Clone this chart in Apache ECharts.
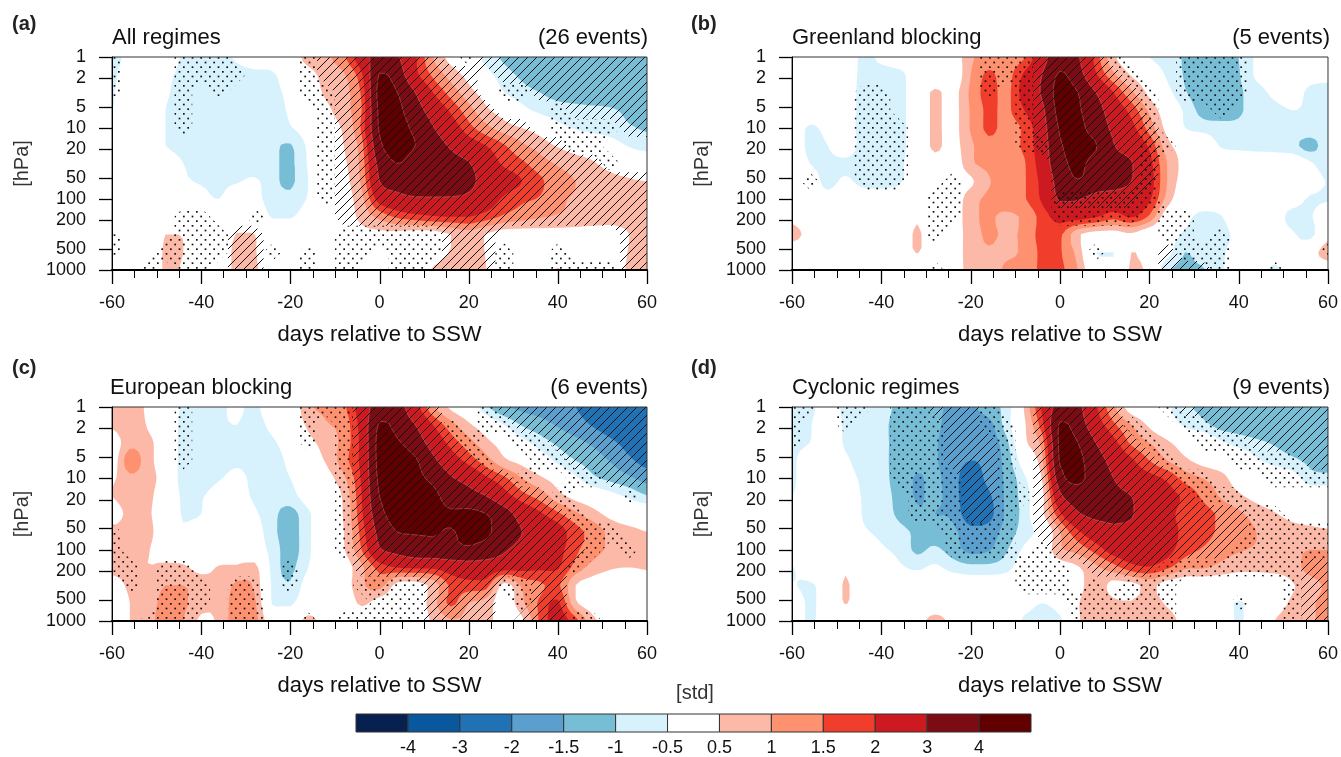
<!DOCTYPE html>
<html><head><meta charset="utf-8">
<script src="https://cdn.jsdelivr.net/npm/echarts@6/dist/echarts.min.js"></script>
<style>html,body{margin:0;padding:0;background:#fff}#c{width:1341px;height:757px}</style>
</head><body><div id="c"></div>
<script>
const days=[-60,-56,-52,-48,-44,-40,-36,-32,-28,-24,-20,-16,-12,-8,-4,0,4,8,12,16,20,24,28,32,36,40,44,48,52,56,60];
const levels=[1,1.78,3.16,5.62,10,17.8,31.6,56.2,100,178,316,562,1000];
const pressureTicks=[1,2,5,10,20,50,100,200,500,1000];
const dayTicks=[-60,-55,-50,-45,-40,-35,-30,-25,-20,-15,-10,-5,0,5,10,15,20,25,30,35,40,45,50,55,60];
const bandEdges=[-4,-3,-2,-1.5,-1,-0.5,0.5,1,1.5,2,3,4];
const bandColors=['#08204f','#09589e','#2171b5','#5a9fce','#78bdd6','#d8f2fd','#ffffff','#fdb9a8','#fe9170','#f03d2c','#cc1a20','#7b0c14','#600000'];

const panelA=[
[-.7,-.3,0,0,-.6,-.8,-.7,-.4,0,0,.2,.7,.9,1.4,2.5,3.4,3.1,2.1,1,.3,-.1,-.7,-1.1,-1.3,-1.3,-1.35,-1.35,-1.3,-1.3,-1.3,-1.3],
[-.6,-.2,0,-.3,-.7,-.8,-.85,-.75,-.7,-.6,0,.3,.7,.95,1.9,4.05,3.5,2.2,1.4,.8,.3,-.3,-.8,-1.1,-1.3,-1.3,-1.4,-1.35,-1.3,-1.3,-1.3],
[-.55,-.1,0,-.4,-.75,-.8,-.8,-.8,-.8,-.7,-.3,.1,.6,.85,1.6,4.3,4,3,2,1.3,.7,.2,-.5,-.8,-1,-1.15,-1.25,-1.3,-1.3,-1.4,-1.4],
[-.5,0,0,-.5,-.75,-.85,-.85,-.85,-.85,-.8,-.4,-.1,.35,.85,1.5,4.2,4.2,3.4,2.6,1.9,1.2,.6,.2,-.3,-.65,-.8,-.85,-.9,-.95,-1.1,-1.2],
[0,0,0,-.5,-.8,-.85,-.85,-.85,-.85,-.85,-.55,-.2,.15,.6,1.6,4.1,4.3,3.8,3.05,2.4,1.7,1.15,.75,.5,.2,-.3,-.55,-.7,-.8,-.95,-1.05],
[0,0,0,-.5,-.75,-.85,-.9,-.9,-.9,-.9,-1.05,-.4,-.05,.5,1.3,3.8,4.3,4,3.4,2.9,2.4,2,1.55,1.1,.8,.45,.2,.1,-.2,-.55,-.75],
[0,0,0,0,-.5,-.65,-.7,-.75,-.9,-.9,-1.1,-.45,-.1,.4,1.2,3.3,4,3.6,3.4,3.3,3.05,2.4,1.9,1.6,1.2,.95,.75,.55,.3,.2,.1],
[0,0,0,0,-.4,-.55,-.6,-.55,-.4,-.85,-1.1,-.5,-.1,.3,1.1,3,3.4,3.5,3.6,3.5,3.2,2.7,2.3,2,1.6,1.2,1,.8,.65,.55,.5],
[0,0,0,0,-.1,-.3,-.5,-.1,-.3,-.75,-.85,-.45,-.1,.25,.85,2.3,2.7,2.9,2.9,2.9,2.8,2.4,1.9,1.6,1.45,1.1,.95,.9,.85,.8,.8],
[0,0,0,0,0,0,0,0,0,-.55,-.55,-.2,0,.2,.65,1.15,1.6,1.8,1.95,2,2,1.75,1.4,1.2,1.05,.95,.85,.8,.75,.75,.8],
[0,0,-.4,.5,.45,0,-.2,.55,.5,0,0,0,0,.1,.3,.35,.3,.2,.2,.5,.8,.45,.2,.2,.25,.25,.25,.2,.2,.5,.9],
[0,0,-.4,.65,.5,0,-.2,.75,.55,0,0,0,0,0,.05,.1,.1,.1,.2,.55,.95,.45,.1,.1,.1,.1,.1,.1,.1,.55,.95],
[0,0,-.4,.65,.4,0,-.2,.75,.6,0,0,0,0,0,.1,.2,.2,.2,.55,.8,.95,.5,.2,.2,.2,.55,.2,.2,.2,.6,1]];
const panelB=[
[0,0,0,.1,-.7,-.3,0,0,0,.1,.9,1.2,1.25,1.45,2.6,3.6,3.1,1.8,.6,.1,-.5,-.8,-1.05,-1.3,-1.3,-1,-.4,-.1,0,0,0],
[0,0,0,-.1,-.7,-.8,-.7,-.1,0,0,1,1.6,1.3,2.1,3,4.1,3.4,2.1,1.1,.45,.1,-.6,-1.05,-1.35,-1.4,-1.05,-.4,-.2,-.1,-.3,-.3],
[0,0,0,-.1,-.75,-.85,-.75,0,.6,.3,1.1,1.7,1.35,2.3,3.1,4.4,4,3,2,1.1,.35,-.3,-.95,-1.3,-1.4,-1.1,-.7,-.4,-.3,-.6,-.7],
[0,0,0,-.1,-.75,-.85,-.75,0,.6,.3,1.05,1.6,1.4,2,2.8,4.3,4.1,3.4,2.5,1.8,.9,.1,-.6,-1.2,-1.3,-1.1,-.7,-.6,-.5,-.55,-.6],
[0,-.6,-.3,-.2,-.75,-.85,-.75,0,.6,.3,1.05,1.6,1.35,1.6,2.6,4.1,4.2,3.6,2.8,2.2,1.3,.3,-.5,-.7,-.8,-.85,-.7,-.6,-.6,-.65,-.7],
[0,-.65,-.5,-.2,-.7,-.8,-.75,0,.6,.3,.9,1.35,1.35,1.6,2.5,3.9,4.2,4.05,3.05,2.6,1.9,.7,.2,.05,-.55,-.65,-.7,-.75,-.85,-1.2,-.7],
[0,-.5,-.6,-.6,-.75,-.8,-.65,0,.3,.1,.9,1.15,1.3,1.45,2.4,3.7,4.15,3.7,3.3,3.05,2.2,1,.3,.1,0,0,0,0,0,-.4,-.9],
[0,-.2,-.65,-.4,-.7,-.75,-.6,0,.1,.1,.4,.95,1.25,1.45,2.2,3.4,3.95,3.5,3.3,3,2.3,1,.2,0,0,0,0,0,0,-.1,-.55],
[0,-.1,-.3,0,-.1,-.1,0,0,.1,.1,.8,1.1,1.3,1.45,2.1,3.1,3.05,2.7,2.6,2.6,2.1,.8,0,0,0,0,0,0,-.1,-.6,-.6],
[.3,0,0,0,0,0,0,.4,0,.1,.85,1.05,.9,1.1,1.7,2.3,2.3,2.05,1.7,2.05,1.4,.1,-.3,-.7,-.55,0,0,0,-.8,-.6,.2],
[.7,.3,0,0,0,0,0,.58,0,.1,.8,1.05,.95,1.1,1.7,1.6,.6,.2,.2,.4,0,-.2,-.6,-.75,-.7,-.3,0,0,-.4,-.7,.3],
[.1,0,0,0,0,0,0,.53,0,.1,.8,.95,.9,1.1,1.6,1.55,.8,-.5,-.5,.5,.1,-.3,-1,-.7,-.6,-.2,-.1,-.2,-.3,.2,.8],
[0,-.55,0,0,-.55,0,0,0,0,.1,.75,.7,1.1,1.2,1.6,1.6,1,-.2,-.3,.6,.3,-.9,-1.1,-1.05,-.6,-.1,-.2,-.6,-.1,0,.1]];
const panelC=[
[.7,.8,.4,0,-.6,-.7,-.6,-.4,-.6,-.1,0,.9,1.1,1.4,2.4,3.5,3.4,2.3,1.1,.4,0,-.9,-1.45,-1.6,-1.7,-1.8,-2,-2.2,-2.3,-2.3,-2.3],
[.6,.9,.45,0,-.65,-.75,-.6,-.5,-.75,-.3,0,.6,.95,1.2,2.3,4.1,3.7,3,2,1.2,.6,.1,-.5,-1.05,-1.3,-1.55,-1.8,-2.05,-2.3,-2.4,-2.4],
[.1,.85,.65,.1,-.7,-.75,-.75,-.75,-.8,-.6,-.1,.35,.7,1.2,2.2,4.3,4.1,3.5,2.6,1.8,1.2,.65,.2,-.3,-.75,-1.1,-1.35,-1.6,-1.9,-2.2,-2.5],
[.15,1.3,.7,.1,-.7,-.75,-.75,-.6,-.7,-.8,-.3,.2,.55,1.3,2.2,4.3,4.4,4.1,3.2,2.4,1.8,1.2,.6,.3,-.1,-.65,-1,-1.25,-1.55,-1.9,-2.2],
[.4,.9,.7,.2,-.75,-.8,-.55,-.35,-.65,-.8,-.5,-.1,.25,.9,2.1,4.2,4.4,4.2,3.8,3.1,2.7,2.1,1.6,1,.6,.2,-.4,-.9,-1.15,-1.4,-1.7],
[.5,.9,.65,.1,-.6,-.55,-.2,-.2,-.6,-.8,-.7,-.2,.05,.6,2,4,4.3,4.3,4.2,3.6,3.35,3,2.3,1.7,1.3,.7,.3,0,-.3,-.6,-.95],
[.1,.7,.6,0,-.55,-.5,0,0,-.4,-.85,-1.2,-.6,0,.55,1.9,3.7,4.3,4.3,4.2,4.1,4.2,4,3.4,2.6,2.1,1.6,1.1,.7,.3,.1,.1],
[.7,.85,.7,0,-.4,-.2,0,0,-.2,-.85,-1.25,-.6,0,.5,1.7,3.3,4,4.05,4.05,3.95,4.2,4.15,3.5,3,2.7,2.3,1.7,1.3,.85,.65,.5],
[.75,.75,.55,.1,0,0,0,0,-.1,-.7,-1.25,-.6,0,.45,1.5,2.9,3.3,3.6,3.7,3.75,3.85,3.6,3.1,2.7,2.4,2.2,1.6,1.2,.9,.85,.8],
[.7,.7,.5,.65,.6,.3,.55,.6,.7,-.7,-1.1,-.5,0,.2,.9,1.7,2,2.1,2.1,2.4,2.5,2.5,2.3,2.2,2.1,2.05,1.3,.8,.55,.5,.55],
[.2,.6,.6,1,1,.8,.6,1.1,.9,-.6,-.95,-.2,0,.2,.9,1.2,.3,.2,.7,1.6,1.8,1.7,.3,1.1,1.4,1.6,.5,.2,.1,.1,.2],
[0,.5,.6,1.3,1.1,.7,.6,1.3,1.1,-.55,-.6,0,0,0,.6,.2,.1,.1,.8,1.6,1,.8,.1,.9,1.6,2.1,.6,.2,.1,.1,.1],
[0,.5,.7,1.4,1,.4,.6,1.3,1.2,0,0,.7,.2,0,0,0,0,0,.6,.95,.9,.8,0,.4,1.6,2.3,1.7,.6,.4,.5,.5]];
const panelD=[
[-.7,-.6,-.3,-.6,-.7,-.85,-1.1,-1.3,-1.4,-1.6,-1.6,-1.2,-.8,.55,2.1,3.4,3.2,2.1,1.1,.2,0,-.4,-.9,-1.1,-1.25,-1.3,-1.3,-1.3,-1.3,-1.3,-1.3],
[-.7,-.55,-.1,-.6,-.75,-.9,-1.15,-1.3,-1.4,-1.7,-1.8,-1.7,-.75,.4,1.8,4.1,3.5,2.4,1.6,1,.4,-.1,-.6,-.85,-1.2,-1.25,-1.3,-1.3,-1.3,-1.3,-1.3],
[-.65,-.5,0,-.6,-.8,-.9,-1.15,-1.35,-1.45,-1.8,-1.9,-1.8,-1.15,.35,1.2,4.2,4,3,2.2,1.4,1,.6,.2,.1,-.4,-.7,-.9,-1.05,-1.2,-1.3,-1.3],
[-.6,-.1,0,-.4,-.75,-.9,-1.15,-1.35,-1.45,-1.8,-2,-1.85,-1.3,-.1,.9,4.1,4.2,3.4,2.7,2.1,1.5,1,.6,.3,.1,0,-.4,-.7,-.9,-1.1,-1.2],
[-.6,-.1,0,-.3,-.6,-.85,-1.2,-1.55,-1.4,-1.8,-2.3,-1.85,-1.4,-.6,.55,3.6,4.2,3.5,3,2.5,2.2,1.9,1.3,1,.7,.2,0,0,-.2,-.8,-.85],
[-.5,0,0,-.2,-.55,-.8,-1.15,-1.55,-1.4,-1.75,-2.4,-2.1,-1.4,-.75,.3,2.8,3.5,3.4,3.2,3,2.5,2.2,1.9,1.4,.95,.6,.3,.1,.1,0,0],
[0,0,0,0,-.55,-.75,-1.1,-1.4,-1.5,-1.6,-2.4,-2.2,-1.4,-.8,.35,1.9,2.9,3.2,3.2,3.05,2.6,2.2,1.8,1.7,1.4,1.1,.8,.55,.3,.1,0],
[0,0,0,0,-.4,-.65,-.85,-1.1,-1.3,-1.4,-1.8,-1.75,-1.3,-.75,-.2,1,1.9,2.5,2.8,2.8,2.6,2.2,1.9,1.7,1.4,1.2,1,.85,.75,.7,.6],
[0,0,0,0,0,-.4,-.65,-1.1,-.9,-1.25,-1.65,-1.55,-1.05,-.4,0,.9,1.2,1.7,2.3,2.5,2.5,2.2,1.7,1.45,1.2,1.05,.95,.9,.9,1,1],
[-.55,0,0,.4,0,-.1,-.4,-.6,-.4,-.7,-.85,-.85,-.7,-.1,0,.2,.45,.9,1.3,1.8,1.95,1.6,1.1,1.05,.85,.65,.65,.75,.8,1.2,1.3],
[-.45,-.6,-.1,.56,0,0,0,0,0,0,-.1,-.1,0,0,0,0,.3,.8,.3,.3,.65,.2,0,0,0,0,0,0,.45,.75,1.1],
[0,-.6,-.1,.53,0,0,0,0,0,0,0,0,0,-.2,-.5,-.2,.45,.9,.6,.55,.85,.4,0,0,-.2,-.55,-.2,.2,.6,.9,1.2],
[0,-.6,-.1,0,0,0,0,.2,.75,.3,.1,0,0,-.6,-.8,-.6,.4,.95,.55,.6,.9,.85,.2,0,-.1,-.55,-.1,.5,.7,.9,1.2]];

// significance: . none, d stippled, h hatched, b both
const sigA=[
"d...ddd....dhhhhhhh.dhhhhhhhhhh",
"d...dddd...dhhhhhhhhh.hhhhhhhhh",
"d...d.d....ddhhhhhhhh.ddhhhhhhh",
"....d.......dhhhhhhhhh...dhhhhh",
"....d.......dhhhhhhhhhhh.ddddhh",
"............dhhhhhhhhhhhhhdd...",
"............dhhhhhhhhhhhhhhhd..",
"............dhhhhhhhhhhhhhhhhhh",
"............dhhhhhhhhhhhhhhhhhh",
"....dd..d....hhhhhhhhhhhhhhhhhh",
"d...dddhh....ddddddhhh.......hh",
"d..ddddhhd.d.dd.dddhhhd..d...hh",
"..d.dd.hh..d.d..ddhhhhd..ddddhh"];
const sigB=[
"...........dddhhhhd...dddd.....",
"...........dddhhhhhd..dddd.....",
"....dd.....d.dhhhhhhd.dddd.....",
"....dd.......dhhhhhhd...d......",
"....ddd......dhhhhhhb..........",
"....ddd......dbhhhhhbd.........",
"....ddd........hhhhhb..........",
".d..ddd..d.....hhhhhb..........",
"........dd.....bbbbbd..........",
"........dd.....ddddd.dd........",
"........d............dd.d......",
".................d...hddd.....d",
"........d............hhhd..d..."];
const sigC=[
"....d......dddhhhhh..dhhhhhhhhh",
"....d......d.dhhhhhd.ddhhhhhhhh",
"....d......d.dhhhhhhd..ddhhhhhh",
"....d........dhhhhhhhd..ddhhhhh",
".............dhhhhhhhhhd..ddhhh",
".............dhhhhhhhhhhhd...d.",
".............dhhhhhhhhhhhhd....",
"d............dhhhhhhhhhhhhhdd..",
"d............dhhhhhhhhhhhhhd.d.",
"dd.dd.....d...hhhhhhhhhhhhd....",
".d.ddd.dd.d...ddddhhhhddhh.....",
"...ddd.dd......dddhhhh.dhh.....",
"..ddd..dd..d.dddddhhhh.hhhdd..."];
const sigD=[
"dd.dd.ddhhhd..hhhhh..dhhhhhhhhh",
"d..d..dddhhdd.hhhhhd..ddhhhhhhh",
"d.....dddhhhd.hhhhhhd..dddhhhhh",
"......dddhhhd.hhhhhhhd...ddddhh",
"......ddddhhd.hhhhhhhhdd...dddd",
".......dddhhddhhhhhhhhhddd.....",
".......dddhhd.hhhhhhhhhhhhdd...",
".........dddd.hhhhhhhhhhhhddddd",
".........dddd.dhhhhhhhhhhdddddd",
".............ddd.hhhhddddddddhh",
".............ddd.d.ddd......dhh",
"................dddddd...d..dhh",
"................dddddd......dhh"];

const panels=[
 {letter:'(a)',name:'All regimes',events:'(26 events)',vals:panelA,sig:sigA,l:112,t:57,w:535,h:213,lx:12,ly:14,nx:112},
 {letter:'(b)',name:'Greenland blocking',events:'(5 events)',vals:panelB,sig:sigB,l:792,t:57,w:537,h:213,lx:691,ly:14,nx:792},
 {letter:'(c)',name:'European blocking',events:'(6 events)',vals:panelC,sig:sigC,l:112,t:407,w:535,h:214,lx:12,ly:358,nx:110},
 {letter:'(d)',name:'Cyclonic regimes',events:'(9 events)',vals:panelD,sig:sigD,l:792,t:407,w:537,h:214,lx:691,ly:358,nx:792}];

function tile(w,h,draw){const c=document.createElement('canvas');c.width=w;c.height=h;draw(c.getContext('2d'));return c;}
const hatchTile=tile(9,9,g=>{const s=9;g.strokeStyle='#111';g.lineWidth=1;g.beginPath();
 g.moveTo(-1,s+1);g.lineTo(s+1,-1);g.moveTo(-1,1);g.lineTo(1,-1);g.moveTo(s-1,s+1);g.lineTo(s+1,s-1);g.stroke();});
const dotTile=tile(26,28,g=>{g.fillStyle='#111';
 for(let r=0;r<3;r++)for(let c=0;c<3;c++){const x=c*26/3,y=r*28/3;
  g.fillRect(x+1,y+1,1.7,1.7);g.fillRect(x+1+13/3,y+1+14/3,1.7,1.7);}});

echarts.graphic.registerShape('contourPolys',echarts.graphic.extendShape({
 type:'contourPolys',shape:{polys:[],closed:true},
 buildPath(ctx,shape){for(const p of shape.polys){ctx.moveTo(p[0][0],p[0][1]);
  for(let i=1;i<p.length;i++)ctx.lineTo(p[i][0],p[i][1]);if(shape.closed)ctx.closePath();}}
}));

// rendering only: a finer contouring mesh through the read values (clamped cubic between grid nodes)
const SUB=4;
function cubic1d(a,n){const out=[];const m=a.length;
 for(let i=0;i<m-1;i++){const p0=a[Math.max(i-1,0)],p1=a[i],p2=a[i+1],p3=a[Math.min(i+2,m-1)];
  const lo=Math.min(p1,p2),hi=Math.max(p1,p2);
  for(let k=0;k<n;k++){const t=k/n;
   const v=.5*(2*p1+(p2-p0)*t+(2*p0-5*p1+4*p2-p3)*t*t+(3*p1-p0-3*p2+p3)*t*t*t);
   out.push(Math.min(hi,Math.max(lo,v)));}}
 out.push(a[m-1]);return out;}
function meshField(f){const rows=f.map(r=>cubic1d(r,SUB));const C=rows[0].length;const cols=[];
 for(let c=0;c<C;c++)cols.push(cubic1d(rows.map(r=>r[c]),SUB));
 return cols[0].map((_,r)=>cols.map(col=>col[r]));}
function meshAxis(a){const o=[];for(let i=0;i<a.length-1;i++)for(let k=0;k<SUB;k++)o.push(a[i]+(a[i+1]-a[i])*k/SUB);o.push(a[a.length-1]);return o;}

function cellPolys(field,px,sign,t){
 const polys=[];const R=field.length,C=field[0].length;
 for(let r=0;r<R-1;r++)for(let c=0;c<C-1;c++){
  const idx=[[r,c],[r,c+1],[r+1,c+1],[r+1,c]],out=[];
  for(let k=0;k<4;k++){const a=idx[k],b=idx[(k+1)%4];
   const va=field[a[0]][a[1]],vb=field[b[0]][b[1]];
   const ia=sign*(va-t)>=0,ib=sign*(vb-t)>=0;const pa=px[a[0]][a[1]],pb=px[b[0]][b[1]];
   if(ia)out.push(pa);
   if(ia!==ib){const f=(t-va)/(vb-va);out.push([pa[0]+f*(pb[0]-pa[0]),pa[1]+f*(pb[1]-pa[1])]);}
  }
  if(out.length>2)polys.push(out);
 }
 return polys;
}
function cellLines(field,px,t){
 const segs=[];const R=field.length,C=field[0].length;
 for(let r=0;r<R-1;r++)for(let c=0;c<C-1;c++){
  const idx=[[r,c],[r,c+1],[r+1,c+1],[r+1,c]],out=[];
  for(let k=0;k<4;k++){const a=idx[k],b=idx[(k+1)%4];
   const va=field[a[0]][a[1]],vb=field[b[0]][b[1]];
   if((va>=t)!==(vb>=t)){const f=(t-va)/(vb-va);const pa=px[a[0]][a[1]],pb=px[b[0]][b[1]];
    out.push([pa[0]+f*(pb[0]-pa[0]),pa[1]+f*(pb[1]-pa[1])]);}
  }
  if(out.length===2)segs.push(out);
  if(out.length===4){segs.push([out[0],out[1]]);segs.push([out[2],out[3]]);}
 }
 return segs;
}
function renderPanel(panel){
 return function(params,api){
  if(params.dataIndex!==0)return null;
  const px=levels.map(p=>days.map(d=>api.coord([d,Math.log10(p)])));
  const mDays=meshAxis(days),mLog=meshAxis(levels.map(p=>Math.log10(p)));
  const mpx=mLog.map(l=>mDays.map(d=>api.coord([d,l])));
  const vals=meshField(panel.vals),children=[];
  const add=(polys,style)=>{if(polys.length)children.push({type:'contourPolys',shape:{polys,closed:true},style});};
  for(let i=5;i>=0;i--)add(cellPolys(vals,mpx,-1,bandEdges[i]),{fill:bandColors[i],stroke:null});
  for(let i=6;i<12;i++)add(cellPolys(vals,mpx,1,bandEdges[i]),{fill:bandColors[i+1],stroke:null});
  for(const t of [3,4]){const s=cellLines(vals,mpx,t);
   if(s.length)children.push({type:'contourPolys',shape:{polys:s,closed:false},style:{fill:null,stroke:'rgba(225,170,170,0.4)',lineWidth:0.8}});}
  const has=(ch,set)=>set.includes(ch)?1:0;
  const dots=panel.sig.map(row=>days.map((d,i)=>has(row[i],'db')));
  const hatch=panel.sig.map(row=>days.map((d,i)=>has(row[i],'hb')));
  add(cellPolys(dots,px,1,.5),{fill:{image:dotTile,repeat:'repeat'},stroke:null});
  add(cellPolys(hatch,px,1,.5),{fill:{image:hatchTile,repeat:'repeat'},stroke:null});
  return {type:'group',children};
 };
}
// outward tick marks, placed through the axes
function renderTick(params,api){
 const v=api.value(0),w=api.value(1),k=api.value(2);
 const p=api.coord([v,w]);const x=Math.round(p[0])+.5,y=Math.round(p[1])+.5;
 let s;
 if(k===2)s={x1:x,y1:p[1],x2:x,y2:p[1]+(v%20===0?14:8)};
 else s={x1:p[0],y1:y,x2:p[0]-13,y2:y};
 return {type:'line',shape:s,style:{stroke:'#000',lineWidth:(k===2&&v%20!==0)?1:1.3}};
}
const font='"Liberation Sans", Arial, sans-serif';
const grids=[],xAxes=[],yAxes=[],series=[],titles=[];
const logTicks=pressureTicks.map(p=>Math.log10(p));
panels.forEach((p,i)=>{
 grids.push({left:p.l,top:p.t,width:p.w,height:p.h,show:true,borderColor:'#333',borderWidth:1,backgroundColor:'transparent',z:6});
 xAxes.push({type:'value',gridIndex:i,min:-60,max:60,interval:20,position:'bottom',z:8,
  name:'days relative to SSW',nameLocation:'middle',nameGap:54,nameTextStyle:{fontFamily:font,fontSize:22,color:'#111'},
  axisLine:{show:true,onZero:false,lineStyle:{color:'#000',width:2}},
  axisTick:{show:false},minorTick:{show:false},
  splitLine:{show:false},minorSplitLine:{show:false},
  axisLabel:{margin:24,fontFamily:font,fontSize:18,color:'#111',hideOverlap:false,showMinLabel:true,showMaxLabel:true}});
 yAxes.push({type:'value',gridIndex:i,min:0,max:3,inverse:true,z:8,
  name:'[hPa]',nameLocation:'middle',nameGap:80,nameRotate:90,nameTextStyle:{fontFamily:font,fontSize:20,color:'#333'},
  axisLine:{show:true,onZero:false,lineStyle:{color:'#000',width:1}},
  axisTick:{show:false},
  splitLine:{show:false},
  axisLabel:{margin:26,fontFamily:font,fontSize:18,color:'#111',customValues:logTicks,
   formatter:v=>String(Math.round(Math.pow(10,v)))}});
 const data=[];levels.forEach((lv,r)=>days.forEach((d,c)=>data.push([d,Math.log10(lv),p.vals[r][c]])));
 series.push({type:'custom',xAxisIndex:i,yAxisIndex:i,coordinateSystem:'cartesian2d',silent:true,clip:true,animation:false,
  progressive:0,encode:{x:0,y:1},renderItem:renderPanel(p),data});
 series.push({type:'custom',xAxisIndex:i,yAxisIndex:i,coordinateSystem:'cartesian2d',silent:true,clip:false,animation:false,z:9,
  encode:{x:0,y:1},renderItem:renderTick,
  data:dayTicks.map(d=>[d,3,2]).concat(logTicks.map(l=>[-60,l,1]))});
 titles.push({text:p.letter,left:p.lx,top:p.ly,textStyle:{fontFamily:font,fontSize:20,fontWeight:'bold',color:'#222'},padding:0});
 titles.push({text:p.name,left:p.nx,top:p.t-30,textStyle:{fontFamily:font,fontSize:22,fontWeight:'normal',color:'#111'},padding:0});
 titles.push({text:p.events,right:1341-p.l-p.w-1,top:p.t-30,textStyle:{fontFamily:font,fontSize:22,fontWeight:'normal',color:'#111'},padding:0});
});
titles.push({text:'[std]',left:695,top:683,textAlign:'center',textStyle:{fontFamily:font,fontSize:20,fontWeight:'normal',color:'#333'},padding:0});
grids.push({left:356,top:714,width:675,height:22,show:false});
xAxes.push({type:'value',gridIndex:4,min:0,max:13,interval:1,
 axisLine:{show:false},axisTick:{show:false},splitLine:{show:false},
 axisLabel:{margin:7,fontFamily:font,fontSize:18,color:'#111',formatter:v=>{const e=bandEdges[v-1];return e===undefined?'':String(e);}}});
yAxes.push({type:'value',gridIndex:4,min:0,max:1,show:false});
series.push({type:'custom',xAxisIndex:4,yAxisIndex:4,coordinateSystem:'cartesian2d',silent:true,animation:false,
 renderItem(params,api){const i=api.value(0);const a=api.coord([i,1]),b=api.coord([i+1,0]);
  return {type:'rect',shape:{x:a[0],y:a[1],width:b[0]-a[0],height:b[1]-a[1]},style:{fill:bandColors[i],stroke:'#333',lineWidth:1}};},
 data:bandColors.map((c,i)=>[i])});
const chart=echarts.init(document.getElementById('c'),null,{renderer:'canvas'});
chart.setOption({animation:false,backgroundColor:'#fff',title:titles,grid:grids,xAxis:xAxes,yAxis:yAxes,series});
</script></body></html>
